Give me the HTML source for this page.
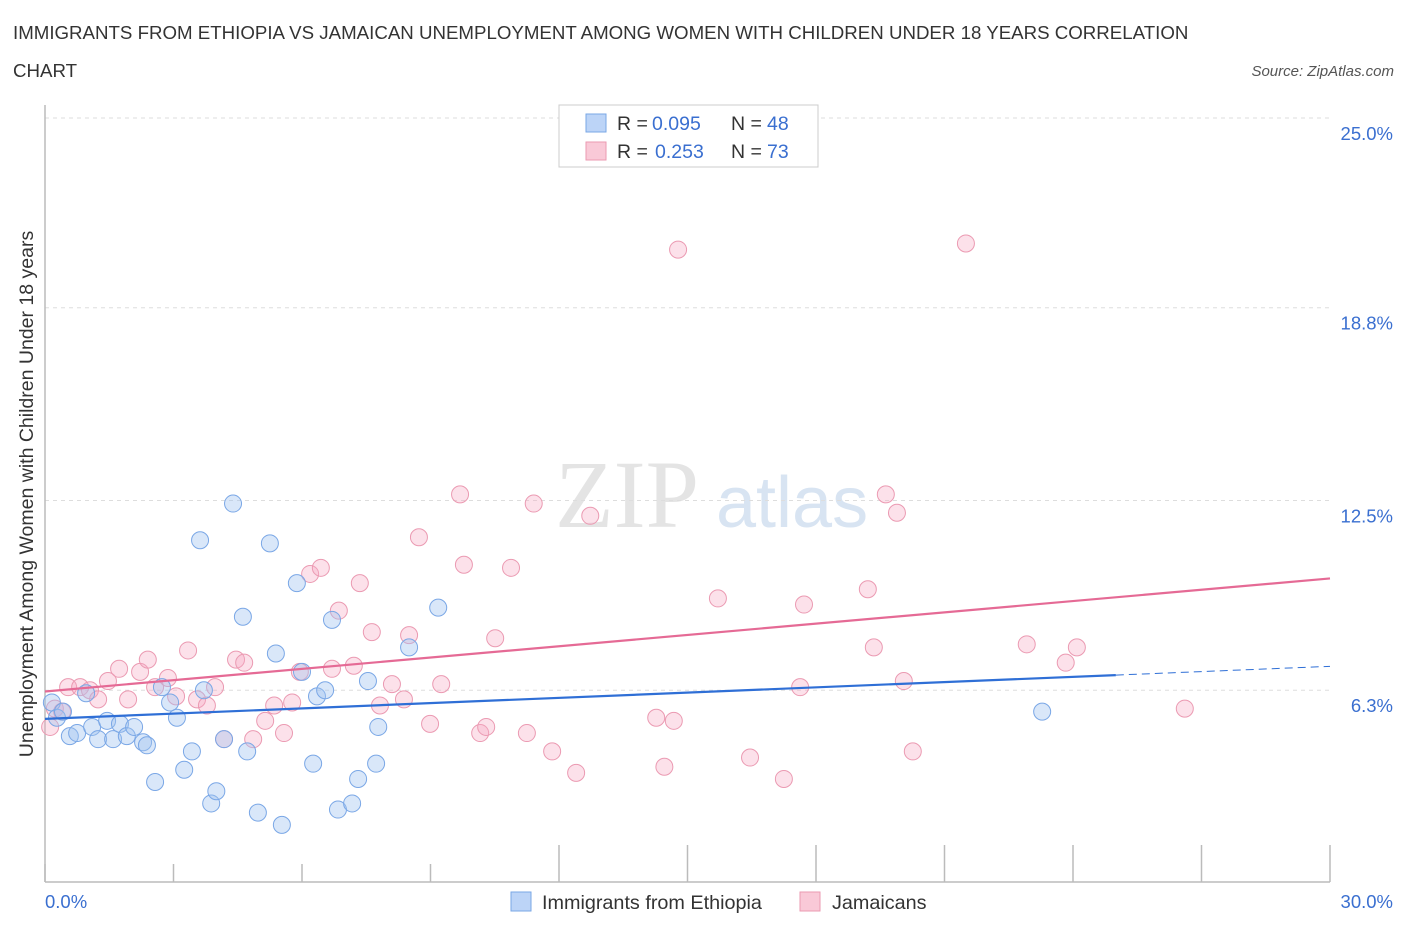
<!DOCTYPE html>
<html><head><meta charset="utf-8"><style>
body{margin:0;background:#fff;font-family:"Liberation Sans",sans-serif}
</style></head><body>
<svg width="1406" height="930" xmlns="http://www.w3.org/2000/svg" font-family="Liberation Sans, sans-serif">
<text x="13" y="39" font-size="18.7" fill="#333">IMMIGRANTS FROM ETHIOPIA VS JAMAICAN UNEMPLOYMENT AMONG WOMEN WITH CHILDREN UNDER 18 YEARS CORRELATION</text>
<text x="13" y="77" font-size="18.7" fill="#333">CHART</text>
<text x="1394" y="76" font-size="15" fill="#555" font-style="italic" text-anchor="end">Source: ZipAtlas.com</text>
<text x="555" y="527" font-size="96" fill="#e4e4e4" font-family="Liberation Serif, serif">ZIP</text>
<text x="716" y="527" font-size="72" fill="#d8e4f2">atlas</text>
<g id="grid"></g>
<g id="axes"></g>
<text transform="translate(33,494) rotate(-90)" font-size="19.5" fill="#333" text-anchor="middle">Unemployment Among Women with Children Under 18 years</text>
<g id="points"></g>
<g id="trends"></g>
<g>
<rect x="559" y="105" width="259" height="62" fill="#fff" stroke="#ccc"/>
<rect x="586" y="114" width="20" height="18" fill="#bcd4f7" stroke="#7aa7e6"/>
<rect x="586" y="142" width="20" height="18" fill="#f9c9d7" stroke="#eb9ab2"/>
<text x="617" y="130" font-size="19.5" fill="#333">R =</text>
<text x="652" y="130" font-size="19.5" fill="#3a6fd0">0.095</text>
<text x="731" y="130" font-size="19.5" fill="#333">N =</text>
<text x="767" y="130" font-size="19.5" fill="#3a6fd0">48</text>
<text x="617" y="158" font-size="19.5" fill="#333">R =</text>
<text x="655" y="158" font-size="19.5" fill="#3a6fd0">0.253</text>
<text x="731" y="158" font-size="19.5" fill="#333">N =</text>
<text x="767" y="158" font-size="19.5" fill="#3a6fd0">73</text>
</g>
<g>
<rect x="511" y="892" width="20" height="19" fill="#bcd4f7" stroke="#7aa7e6"/>
<text x="542" y="909" font-size="19.8" fill="#333">Immigrants from Ethiopia</text>
<rect x="800" y="892" width="20" height="19" fill="#f9c9d7" stroke="#eb9ab2"/>
<text x="832" y="909" font-size="19.8" fill="#333">Jamaicans</text>
</g>
</svg>
<script>
const yTicks=[25.0,18.8,12.5,6.3];
const yTickLabels=["25.0%","18.8%","12.5%","6.3%"];
const xTickValues=[0,3,6,9,12,15,18,21,24,27,30];
const ethX=[0.16,0.28,0.42,0.58,0.75,0.96,1.1,1.24,1.45,1.59,1.75,1.91,2.08,2.29,2.38,2.57,2.73,2.92,3.08,3.25,3.43,3.62,3.71,3.88,4.0,4.18,4.62,4.72,4.39,4.97,5.25,5.39,5.53,5.88,6.0,6.26,6.35,6.54,6.7,6.84,7.17,7.31,7.54,7.73,7.78,8.5,9.18,23.28];
const ethY=[5.9,5.4,5.6,4.8,4.9,6.2,5.1,4.7,5.3,4.7,5.2,4.8,5.1,4.6,4.5,3.3,6.4,5.9,5.4,3.7,4.3,11.2,6.3,2.6,3.0,4.7,8.7,4.3,12.4,2.3,11.1,7.5,1.9,9.8,6.9,3.9,6.1,6.3,8.6,2.4,2.6,3.4,6.6,3.9,5.1,7.7,9.0,5.6];
const jamX=[0.12,0.23,0.4,0.54,0.82,1.05,1.24,1.47,1.73,1.94,2.22,2.4,2.57,2.87,3.06,3.34,3.55,3.78,3.97,4.18,4.46,4.65,4.86,5.14,5.35,5.58,5.77,5.95,6.19,6.44,6.7,6.86,7.21,7.35,7.63,7.82,8.1,8.38,8.5,8.73,8.99,9.25,9.69,9.78,10.16,10.3,10.51,10.88,11.25,11.41,11.84,12.4,12.73,14.27,14.46,14.68,14.78,15.71,16.46,17.25,17.63,17.72,19.21,19.35,19.63,19.89,20.05,20.26,21.5,22.92,23.83,24.09,26.61];
const jamY=[5.1,5.7,5.6,6.4,6.4,6.3,6.0,6.6,7.0,6.0,6.9,7.3,6.4,6.7,6.1,7.6,6.0,5.8,6.4,4.7,7.3,7.2,4.7,5.3,5.8,4.9,5.9,6.9,10.1,10.3,7.0,8.9,7.1,9.8,8.2,5.8,6.5,6.0,8.1,11.3,5.2,6.5,12.7,10.4,4.9,5.1,8.0,10.3,4.9,12.4,4.3,3.6,12.0,5.4,3.8,5.3,20.7,9.3,4.1,3.4,6.4,9.1,9.6,7.7,12.7,12.1,6.6,4.3,20.9,7.8,7.2,7.7,5.7];
const ns="http://www.w3.org/2000/svg";
function X(v){return 45+v/30*1285;}
function Y(v){return 118+(25-v)*30.6;}
function mk(tag,attrs,parent){const e=document.createElementNS(ns,tag);for(const k in attrs)e.setAttribute(k,attrs[k]);document.getElementById(parent).appendChild(e);return e;}
yTicks.forEach((t,i)=>{
 const l=mk('line',{x1:45,x2:1330,y1:Y(t),y2:Y(t),stroke:'#ddd','stroke-dasharray':'4,4'},'grid');
 
 
 const tx=mk('text',{x:1393,y:Y(t)+22,'font-size':18.5,fill:'#3a6fd0','text-anchor':'end'},'grid');
 tx.textContent=yTickLabels[i];
 
 
});
const ax=mk('line',{x1:45,x2:1330,y1:882,y2:882,stroke:'#bbb','stroke-width':1.5},'axes');


const ay=mk('line',{x1:45,x2:45,y1:105,y2:882,stroke:'#bbb','stroke-width':1.5},'axes');


xTickValues.forEach(t=>{
 const tk=mk('line',{x1:X(t),x2:X(t),y1:t>=12?845:864,y2:882,stroke:'#bbb','stroke-width':1.5},'axes');
 
 
});
const x0=mk('text',{x:45,y:908,'font-size':18.5,fill:'#3a6fd0'},'axes');x0.textContent='0.0%';


const x1=mk('text',{x:1393,y:908,'font-size':18.5,fill:'#3a6fd0','text-anchor':'end'},'axes');x1.textContent='30.0%';


jamX.forEach((v,i)=>{
 const c=mk('circle',{cx:X(v),cy:Y(jamY[i]),r:8.5,fill:'rgba(246,170,195,0.35)',stroke:'#eb9ab2','stroke-width':1},'points');
 
 
});
ethX.forEach((v,i)=>{
 const c=mk('circle',{cx:X(v),cy:Y(ethY[i]),r:8.5,fill:'rgba(160,195,240,0.4)',stroke:'#7aa7e6','stroke-width':1},'points');
 
 
});
function fit(xs,ys){const n=xs.length;let mx=0,my=0;xs.forEach((x,i)=>{mx+=x;my+=ys[i];});mx/=n;my/=n;let sxy=0,sxx=0;xs.forEach((x,i)=>{sxy+=(x-mx)*(ys[i]-my);sxx+=(x-mx)**2;});const b=sxy/sxx;return [my-b*mx,b];}
const fe=fit(ethX,ethY), fj=fit(jamX,jamY);
const t1=mk('line',{x1:X(0),y1:Y(fe[0]),x2:X(25),y2:Y(fe[0]+fe[1]*25),stroke:'#2f6fd6','stroke-width':2.2},'trends');


const t2=mk('line',{x1:X(25),y1:Y(fe[0]+fe[1]*25),x2:X(30),y2:Y(fe[0]+fe[1]*30),stroke:'#2f6fd6','stroke-width':1,'stroke-dasharray':'8,5'},'trends');


const t3=mk('line',{x1:X(0),y1:Y(fj[0]),x2:X(30),y2:Y(fj[0]+fj[1]*30),stroke:'#e56a95','stroke-width':2.2},'trends');


</script>
</body></html>
